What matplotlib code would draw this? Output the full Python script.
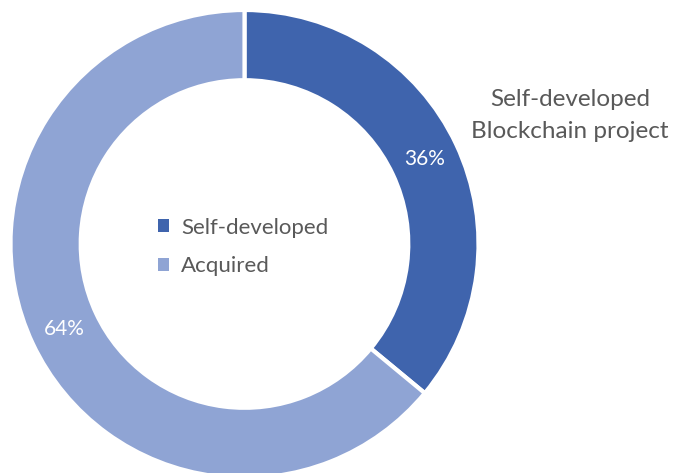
import matplotlib
matplotlib.use("Agg")
import matplotlib.pyplot as plt
from matplotlib.patches import Patch

categories = ["Self-developed", "Acquired"]
values = [36, 64]
colors = ["#3F64AD", "#8FA4D4"]
title = "Self-developed\nBlockchain project"

plt.rcParams['font.family'] = ['Lato', 'DejaVu Sans']
W, H = 676, 473
fig = plt.figure(figsize=(W/100, H/100), dpi=100)
cx, cy, R = 244.5, 244, 234
ax = fig.add_axes([(cx - R)/W, (H - cy - R)/H, 2*R/W, 2*R/H])
wedges, texts, autotexts = ax.pie(
    values, colors=colors, startangle=90, counterclock=False,
    radius=1.0, autopct=lambda p: f"{p:.0f}%", pctdistance=0.85,
    wedgeprops=dict(width=0.3, edgecolor="white", linewidth=3),
    textprops=dict(color="white", fontsize=15))
ax.set_xlim(-1, 1)
ax.set_ylim(-1, 1)
ax.set_aspect("equal")
ax.axis("off")

handles = [Patch(facecolor=c, edgecolor="none") for c in colors]
leg = fig.legend(handles, categories, loc="center left",
                 bbox_to_anchor=(158/W, 1 - 247/H), frameon=False,
                 handlelength=0.5, handleheight=0.5, handletextpad=0.55,
                 labelspacing=0.85, borderpad=0, borderaxespad=0,
                 fontsize=16, labelcolor="#595959")

fig.text(570/W, 1 - 115.5/H, title, ha="center", va="center",
         fontsize=17.5, color="#595959", linespacing=1.6)

fig.savefig("out.png", dpi=100)
